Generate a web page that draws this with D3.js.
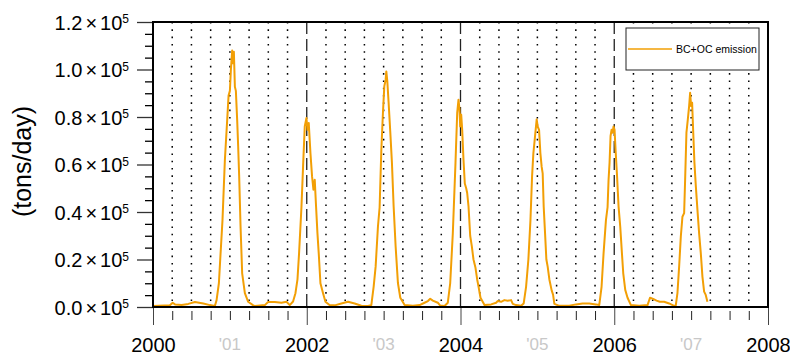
<!DOCTYPE html>
<html>
<head>
<meta charset="utf-8">
<script src="https://cdn.jsdelivr.net/npm/d3@7/dist/d3.min.js"></script>
<style>
body { margin: 0; background: #fff; }
svg { display: block; font-family: "Liberation Sans", Arial, Helvetica, sans-serif; }
</style>
</head>
<body>
<svg width="790" height="358"></svg>
<script>
// daily BC+OC emission, [decimal year, tons/day]
var emis2000 = [[2000.000, 400], [2000.220, 700], [2000.256, 1800], [2000.286, 1100], [2000.372, 800], [2000.459, 1300], [2000.545, 2100], [2000.654, 1500], [2000.740, 800], [2000.805, 400], [2000.827, 2900], [2000.857, 10000], [2000.879, 22600], [2000.904, 36600], [2000.935, 61900], [2000.965, 78700], [2000.983, 89000]];
var emis2001 = [[2001.000, 91000], [2001.013, 99800], [2001.030, 108000], [2001.039, 102600], [2001.052, 107500], [2001.065, 92700], [2001.078, 91000], [2001.095, 78700], [2001.108, 67500], [2001.121, 54900], [2001.139, 33800], [2001.160, 14200], [2001.195, 5800], [2001.238, 2200], [2001.300, 800], [2001.325, 400], [2001.455, 800], [2001.497, 2100], [2001.584, 2100], [2001.671, 1800], [2001.736, 2200], [2001.779, 800], [2001.822, 2300], [2001.853, 5800], [2001.879, 11500], [2001.900, 22600], [2001.931, 42000], [2001.952, 59000], [2001.974, 76000], [2001.996, 79600]];
var emis2002 = [[2002.009, 74600], [2002.026, 77500], [2002.048, 64800], [2002.069, 55000], [2002.087, 49400], [2002.104, 53600], [2002.121, 42400], [2002.139, 31100], [2002.156, 22600], [2002.178, 10000], [2002.212, 5800], [2002.243, 2200], [2002.300, 700], [2002.364, 700], [2002.450, 1500], [2002.537, 2200], [2002.623, 1500], [2002.710, 500], [2002.796, 400], [2002.840, 800], [2002.870, 8500], [2002.896, 17000], [2002.926, 33800], [2002.948, 42000], [2002.970, 66000], [2002.991, 81700]];
var emis2003 = [[2003.009, 93000], [2003.026, 95600], [2003.035, 99200], [2003.048, 95000], [2003.065, 86000], [2003.087, 73400], [2003.108, 60800], [2003.130, 42500], [2003.156, 25600], [2003.186, 10100], [2003.217, 3900], [2003.273, 800], [2003.381, 500], [2003.468, 800], [2003.532, 1800], [2003.576, 2500], [2003.606, 3500], [2003.640, 2700], [2003.705, 1800], [2003.736, 600], [2003.792, 400], [2003.835, 1800], [2003.866, 10000], [2003.900, 31000], [2003.935, 60800], [2003.957, 81700], [2003.974, 87300], [2003.987, 83200], [2003.996, 76000]];
var emis2004 = [[2004.009, 81000], [2004.022, 74600], [2004.039, 62000], [2004.056, 52000], [2004.074, 50000], [2004.087, 48000], [2004.104, 42500], [2004.126, 30000], [2004.147, 25600], [2004.169, 20000], [2004.195, 16500], [2004.217, 11600], [2004.238, 8000], [2004.260, 3900], [2004.312, 800], [2004.398, 1100], [2004.463, 1800], [2004.485, 2500], [2004.528, 2200], [2004.571, 2900], [2004.615, 2600], [2004.658, 2900], [2004.680, 1300], [2004.723, 800], [2004.788, 500], [2004.822, 1500], [2004.853, 8500], [2004.883, 20000], [2004.910, 36600], [2004.931, 55000], [2004.948, 64800], [2004.961, 69000], [2004.974, 73400], [2004.991, 79000]];
var emis2005 = [[2005.004, 76000], [2005.022, 74600], [2005.039, 64800], [2005.056, 59000], [2005.069, 56300], [2005.082, 42400], [2005.100, 31000], [2005.117, 20000], [2005.134, 17000], [2005.156, 11600], [2005.186, 7000], [2005.204, 5200], [2005.221, 1300], [2005.286, 500], [2005.416, 500], [2005.502, 1100], [2005.588, 1500], [2005.675, 1500], [2005.762, 1100], [2005.805, 800], [2005.835, 8500], [2005.861, 22600], [2005.892, 36600], [2005.913, 42000], [2005.926, 53600], [2005.939, 60800], [2005.952, 72000], [2005.965, 74600], [2005.978, 73400], [2005.991, 76000]];
var emis2006 = [[2006.004, 74600], [2006.017, 66200], [2006.035, 56000], [2006.056, 42400], [2006.078, 33800], [2006.100, 22600], [2006.117, 14200], [2006.143, 7200], [2006.173, 3900], [2006.217, 800], [2006.325, 500], [2006.433, 800], [2006.465, 3900], [2006.506, 3400], [2006.550, 2700], [2006.593, 2200], [2006.649, 2200], [2006.714, 1500], [2006.779, 500], [2006.800, 600], [2006.822, 5800], [2006.844, 17000], [2006.866, 29700], [2006.887, 38000], [2006.909, 39500], [2006.922, 53600], [2006.939, 73400], [2006.957, 79000], [2006.974, 84600], [2006.987, 90200]];
var emis2007 = [[2007.000, 84600], [2007.013, 86000], [2007.026, 74600], [2007.043, 60800], [2007.061, 51000], [2007.082, 41000], [2007.104, 31000], [2007.126, 22600], [2007.147, 12800], [2007.169, 6500], [2007.190, 5100], [2007.212, 2200]];

var yMajor = [0, 20000, 40000, 60000, 80000, 100000, 120000];
var yLabels = ["0.0", "0.2", "0.4", "0.6", "0.8", "1.0", "1.2"];
var xMajor = [2000, 2002, 2004, 2006, 2008];
var xMinorYears = [2001, 2003, 2005, 2007];
var xMinorLabels = ["'01", "'03", "'05", "'07"];
var seriesName = "BC+OC emission";
var yTitle = "(tons/day)";

var LINE_COLOR = "#f29f05";
var marge = {top: 22, left: 153, right: 22, bottom: 51};
var svg = d3.select("svg");
var width = +svg.attr("width") - marge.left - marge.right;
var height = +svg.attr("height") - marge.top - marge.bottom;

var x = d3.scaleLinear().domain([2000, 2008]).range([0, width]);
var y = d3.scaleLinear().domain([0, 120000]).range([height, 0]);

var g = svg.append("g")
    .attr("transform", "translate(" + marge.left + "," + marge.top + ")");

// quarter gridlines, dashed on the even years
var quarters = d3.range(1, 32).map(function(i) { return 2000 + i / 4; });
g.append("g")
    .selectAll("line")
    .data(quarters)
    .enter()
    .append("line")
    .attr("x1", function(d) { return x(d); })
    .attr("x2", function(d) { return x(d); })
    .attr("y1", 0)
    .attr("y2", height)
    .attr("stroke", function(d) { return xMajor.indexOf(d) >= 0 ? "#222" : "#000"; })
    .attr("stroke-width", function(d) { return xMajor.indexOf(d) >= 0 ? 1.3 : 1.5; })
    .attr("stroke-dasharray", function(d) { return xMajor.indexOf(d) >= 0 ? "12,5" : "1.6,5.7"; });

// legend box (hides the gridlines behind it)
var legend = g.append("g").attr("transform", "translate(" + (width - 142) + ",6)");
legend.append("rect")
    .attr("width", 133).attr("height", 42)
    .attr("fill", "white").attr("stroke", "#222").attr("stroke-width", 1);
legend.append("line")
    .attr("x1", 2).attr("x2", 46).attr("y1", 21).attr("y2", 21)
    .attr("stroke", LINE_COLOR).attr("stroke-width", 1.5);
legend.append("text")
    .attr("x", 50).attr("y", 21).attr("dy", "0.35em")
    .attr("font-size", 10.5)
    .text(seriesName);

// the series
var series = [].concat(emis2000, emis2001, emis2002, emis2003, emis2004, emis2005, emis2006, emis2007);
var line = d3.line()
    .x(function(d) { return x(d[0]); })
    .y(function(d) { return y(d[1]); });
g.append("path")
    .datum(series)
    .attr("fill", "none")
    .attr("stroke", LINE_COLOR)
    .attr("stroke-width", 2)
    .attr("stroke-linejoin", "round")
    .attr("d", line);

// y axis: minor ticks every 5000, major every 20000
var yMinor = d3.range(0, 120001, 5000).filter(function(v) { return yMajor.indexOf(v) < 0; });
g.append("g")
    .call(d3.axisLeft(y).tickValues(yMinor).tickSize(8).tickFormat(""))
    .call(function(a) { a.select(".domain").remove(); })
    .selectAll("line").attr("stroke", "#000").attr("stroke-width", 1.3);
var yAx = g.append("g")
    .call(d3.axisLeft(y).tickValues(yMajor).tickSize(16).tickFormat(""))
    .call(function(a) { a.select(".domain").remove(); });
yAx.selectAll("line").attr("stroke", "#333").attr("stroke-width", 1.3);
yAx.selectAll(".tick").each(function(d, i) {
    var t = d3.select(this).append("text")
        .attr("x", -24).attr("y", 0).attr("dy", "0.36em")
        .attr("text-anchor", "end")
        .attr("fill", "#000")
        .attr("font-size", 20);
    t.append("tspan").text(yLabels[i]);
    t.append("tspan").attr("dx", 3).text("\u00d7");
    t.append("tspan").attr("dx", 3).text("10");
    t.append("tspan").attr("dy", "-0.55em").attr("font-size", 12).text("5");
});

// x axis: quarter ticks
var xMinorTicks = quarters.filter(function(d) { return xMajor.indexOf(d) < 0; });
g.append("g")
    .attr("transform", "translate(0," + height + ")")
    .call(d3.axisBottom(x).tickValues(xMinorTicks).tickSize(13).tickFormat(""))
    .call(function(a) { a.select(".domain").remove(); })
    .selectAll("line").attr("stroke", "#222").attr("stroke-dasharray", "0,4,9,50");
var xAx = g.append("g")
    .attr("transform", "translate(0," + height + ")")
    .call(d3.axisBottom(x).tickValues(xMajor).tickSize(18).tickFormat(""))
    .call(function(a) { a.select(".domain").remove(); });
xAx.selectAll("line").attr("stroke", "#444");
xAx.selectAll(".tick").append("text")
    .attr("y", 31).attr("dy", "0.71em")
    .attr("fill", "#000").attr("font-size", 20)
    .attr("text-anchor", "middle")
    .text(function(d) { return d; });

g.append("g")
    .selectAll("text")
    .data(xMinorYears)
    .enter()
    .append("text")
    .attr("x", function(d) { return x(d); })
    .attr("y", height + 43)
    .attr("text-anchor", "middle")
    .attr("fill", "#c8c8c8")
    .attr("font-size", 17)
    .text(function(d, i) { return xMinorLabels[i]; });

// frame
g.append("rect")
    .attr("width", width).attr("height", height)
    .attr("fill", "none").attr("stroke", "#000").attr("stroke-width", 2);

// y title
svg.append("text")
    .attr("transform", "translate(31," + (marge.top + height / 2 - 3) + ") rotate(-90)")
    .attr("text-anchor", "middle")
    .attr("font-size", 25)
    .text(yTitle);
</script>
</body>
</html>
